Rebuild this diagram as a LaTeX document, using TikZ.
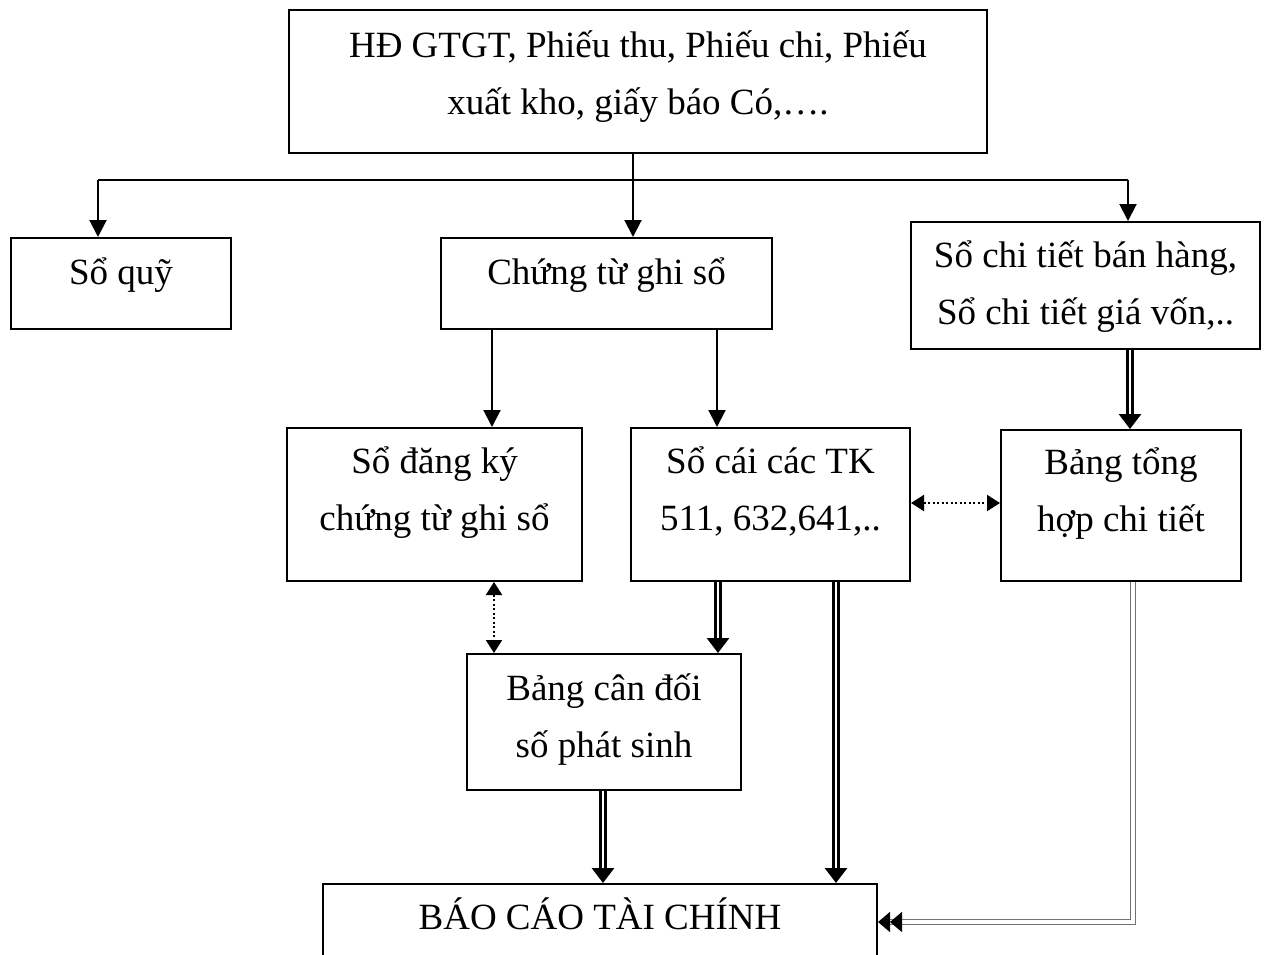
\documentclass[tikz,border=0pt]{standalone}
\usepackage{fontspec}
\setmainfont{Liberation Serif}
\usetikzlibrary{arrows.meta}
\begin{document}
\begin{tikzpicture}[x=1pt,y=-1pt,
  box/.style={draw,line width=2pt,rectangle,inner sep=0pt},
  txt/.style={anchor=base,align=center,inner sep=0pt,
    font=\fontsize{37}{57}\selectfont},
  ln/.style={line width=2pt},
  arr/.style={line width=2pt,-{Triangle[width=17pt,length=17pt]}},
  dotarr/.style={line width=2pt,dash pattern=on 2pt off 2.5pt,
    {Triangle[width=16pt,length=13pt]}-{Triangle[width=16pt,length=13pt]}},
  dbl/.style={line width=3pt,double,double distance=2.5pt,
    -{Triangle[width=22pt,length=15pt]}},
  thindbl/.style={line width=1.4pt,draw=black!55,double,double distance=3.5pt,
    -{Triangle[width=20pt,length=12pt,color=black]Triangle[width=20pt,length=12pt,color=black]}}]
\useasboundingbox (0,0) rectangle (1267,954);

% boxes
\node[box,minimum width=698pt,minimum height=143pt] (top) at (638,81.5) {};
\node[box,minimum width=220pt,minimum height=91pt] (soquy) at (121,283.5) {};
\node[box,minimum width=331pt,minimum height=91pt] (ctgs) at (606.5,283.5) {};
\node[box,minimum width=349pt,minimum height=127pt] (sct) at (1085.5,285.5) {};
\node[box,minimum width=295pt,minimum height=153pt] (sdk) at (434.5,504.5) {};
\node[box,minimum width=279pt,minimum height=153pt] (sc) at (770.5,504.5) {};
\node[box,minimum width=240pt,minimum height=151pt] (bth) at (1121,505.5) {};
\node[box,minimum width=274pt,minimum height=136pt] (bcd) at (604,722) {};
\node[box,minimum width=554pt,minimum height=106pt] (bctc) at (600,937) {};

% labels (base anchor = baseline of the last line)
\node[txt] (ttop) at (638,114) {HĐ GTGT, Phiếu thu, Phiếu chi, Phiếu\\xuất kho, giấy báo Có,….};
\node[txt] (tsoquy) at (121,284) {Sổ quỹ};
\node[txt] (tctgs) at (606.5,284) {Chứng từ ghi sổ};
\node[txt] (tsct) at (1085.5,324) {Sổ chi tiết bán hàng,\\Sổ chi tiết giá vốn,..};
\node[txt] (tsdk) at (434.5,530) {Sổ đăng ký\\chứng từ ghi sổ};
\node[txt] (tsc) at (770.5,530) {Sổ cái các TK\\511, 632,641,..};
\node[txt] (tbth) at (1121,531) {Bảng tổng\\hợp chi tiết};
\node[txt] (tbcd) at (604,757) {Bảng cân đối\\số phát sinh};
\node[txt] (tbctc) at (600,929) {BÁO CÁO TÀI CHÍNH};

% distribution from the source documents
\coordinate (j1) at (98,180);
\coordinate (j2) at (633,180);
\coordinate (j3) at (1128,180);
\draw[ln] (j2 |- top.south) -- (j2);
\draw[ln] (j1) -- (j3);
\draw[arr] (j1) -- (j1 |- soquy.north);
\draw[arr] (j2) -- (j2 |- ctgs.north);
\draw[arr] (j3) -- (j3 |- sct.north);

% from the journal vouchers
\coordinate (c1) at (492,0);
\coordinate (c2) at (717,0);
\draw[arr] (c1 |- ctgs.south) -- (c1 |- sdk.north);
\draw[arr] (c2 |- ctgs.south) -- (c2 |- sdk.north);

% detail ledgers to summary
\coordinate (c3) at (1130,0);
\draw[dbl] (c3 |- sct.south) -- (c3 |- bth.north);

% reconciliation
\coordinate (r1) at (0,503);
\draw[dotarr] (sc.east |- r1) -- (bth.west |- r1);
\coordinate (c4) at (494,0);
\draw[dotarr] (c4 |- sdk.south) -- (c4 |- bcd.north);

% towards the trial balance and the financial statements
\coordinate (c5) at (718,0);
\coordinate (c6) at (836,0);
\coordinate (c7) at (603,0);
\draw[dbl] (c5 |- sc.south) -- (c5 |- bcd.north);
\draw[dbl] (c6 |- sc.south) -- (c6 |- bctc.north);
\draw[dbl] (c7 |- bcd.south) -- (c7 |- bctc.north);

\coordinate (k) at (1133,922);
\draw[thindbl] (k |- bth.south) -- (k) -- (bctc.east |- k);
\end{tikzpicture}
\end{document}
